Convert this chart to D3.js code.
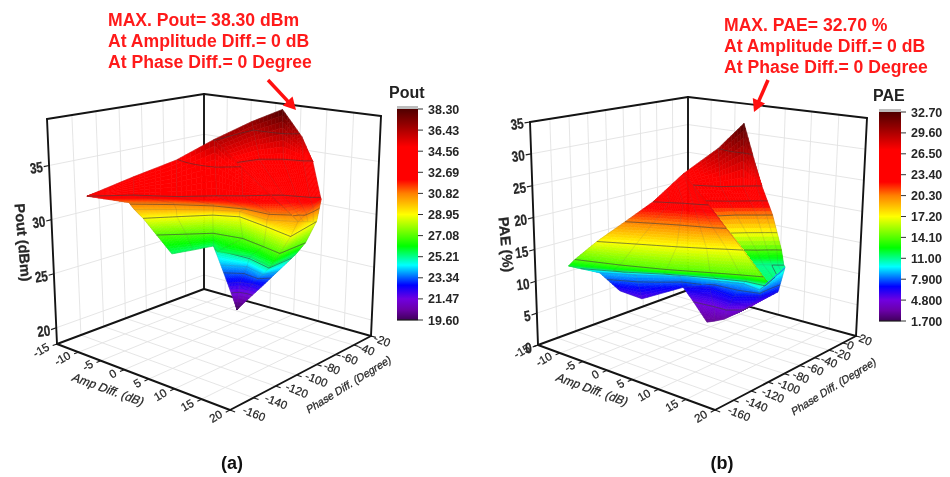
<!DOCTYPE html>
<html>
<head>
<meta charset="utf-8">
<script src="https://cdn.jsdelivr.net/npm/d3@7"></script>
<style>
  html, body { margin: 0; background: #fff; }
  svg { display: block; filter: blur(0.6px); font-family: "Liberation Sans", Arial, sans-serif; }
</style>
</head>
<body>
<svg id="chart" width="950" height="477"></svg>
<script>
// axis values
const ampTicks = [-15, -10, -5, 0, 5, 10, 15, 20];
const phaseTicksA = [-160, -140, -120, -100, -80, -60, -40, -20];
const phaseTicksB = [-160, -140, -120, -100, -80, -60, -40, -20, 0, 20];
const poutTicks = [20, 25, 30, 35];
const paeTicks = [0, 5, 10, 15, 20, 25, 30, 35];
const poutBarLabels = ["38.30", "36.43", "34.56", "32.69", "30.82", "28.95", "27.08", "25.21", "23.34", "21.47", "19.60"];
const paeBarLabels = ["32.70", "29.60", "26.50", "23.40", "20.30", "17.20", "14.10", "11.00", "7.900", "4.800", "1.700"];

// Pout surface, three pieces: back sheet, lower tail, front sheet
const poutBackAmp = [[-2.1,-5.2,-1.3,5.0,10.2],[2.2,3.3,6.0,9.1,10.2],[11.5,12.9,14.8,16.7,17.9],[14.7,14.7,15.4,15.7,15.9],[14.7,14.2,13.6,13.0,12.0]];
const poutBackPhase = [[-70,-18,-6,-18,-34],[-69,-52,-42,-38,-34],[-83,-78,-75,-72,-68],[-72,-69,-68,-63,-56],[-72,-64,-56,-47,-38]];
const poutBackValue = [[36.5,37,38.3,36.2,34.5],[34.5,34.5,34.5,34.5,34.5],[32.7,32.7,32.7,32.7,32.7],[30.3,30.5,31,31.5,32],[30.3,30,29.6,29.3,29]];

const poutTailAmp = [[-4.5,3.7,9.3,8.5],[-2.3,1.5,6.0,6.8],[-0.4,0.8,2.8,4.8],[0,0,0,0]];
const poutTailPhase = [[-59,-62,-70,-40],[-62,-54,-60,-49],[-64,-57,-55,-55],[-56,-56,-56,-56]];
const poutTailValue = [[25.5,25.5,25.5,25.5],[24,24,24,24],[22.5,22.5,22.5,22.5],[19.7,19.7,19.7,19.7]];

const poutFrontAmp = [[-8.2,-7.1,-6.4,-2.1,4.8,11.5,11.5],[-8.2,-3.6,1.8,5.8,8.7,11.5,11.5],[-9.0,-3.6,1.6,6.8,11.1,13.5,13.5],[-9.1,-4.2,0.3,3.9,10.2,14.3,14.3],[-9.9,-6.6,-3.0,0.9,7.8,13.9,11.8],[-9.4,-6.2,-3.3,2.2,7.5,11.6,11.1],[-6.6,-5.5,-4.5,-2.0,3.7,9.3,8.5]];
const poutFrontPhase = [[-156,-121,-86,-70,-77,-83,-83],[-156,-136,-122,-105,-95,-83,-83],[-118,-101,-88,-82,-81,-74,-74],[-113,-96,-82,-74,-79,-70,-70],[-102,-85,-67,-59,-67,-75,-37],[-92,-78,-65,-62,-68,-73,-44],[-90,-75,-59,-67,-62,-70,-40]];
const poutFrontValue = [[32.7,33.7,34.5,36.5,34.5,32.7,32.7],[32.7,32.7,32.7,32.7,32.7,32.7,32.7],[31,31,31,31,31,31,31],[30.2,30.2,30.2,30.2,30.2,30.2,30.2],[28.95,28.95,28.95,28.95,28.95,28.95,28.95],[27.08,27.08,27.08,27.08,27.08,27.08,27.08],[25.5,25.5,25.5,25.5,25.5,25.5,25.5]];

// PAE surface
const paeBackAmp = [[0.6,1.6,1.0,10.9,14.7],[6.9,10.5,12.7,14.1,14.7],[5.7,7.6,9.9,11.0,11.7],[7.0,8.5,9.7,10.8,11.4],[6.9,7.9,8.9,9.7,10.4],[14.9,13.7,12.6,11.8,10.8]];
const paeBackPhase = [[-78,-43,-7,-58,-75],[-105,-96,-84,-77,-75],[-70,-58,-48,-43,-40],[-44,-38,-32,-27,-25],[-29,-24,-20,-17,-14],[-66,-51,-39,-27,-15]];
const paeBackValue = [[26.5,29.6,32.7,28.9,26.5],[26.5,26.5,26.5,26.5,26.5],[20.3,20.3,20.3,20.3,20.3],[14.1,14.1,14.1,14.1,14.1],[11,11,11,11,11],[11.5,11.3,11,10.8,10.8]];

const paeTailAmp = [[-2.1,4.2,7.6,11.3,10.6],[-2.7,0.8,6.2,9.3,10.0],[-0.7,3.1,5.6,7.6,7.4],[3.2,4.2,5.1,6.3,7.4]];
const paeTailPhase = [[-66,-55,-48,-52,-14],[-59,-47,-51,-37,-18],[-58,-56,-56,-47,-37],[-65,-61,-55,-47,-39]];
const paeTailValue = [[9,9,9,9,10.5],[6.8,6.8,6.8,6.8,6.8],[4.8,4.8,4.8,4.8,4.8],[2.8,3,3.2,4,4.8]];

const paeFrontAmp = [[1.0,1.0,1.4,0.6,3.8,8.3,8.3],[1.0,3.2,4.9,6.3,7.2,8.3,8.3],[-2.2,1.5,5.1,7.9,9.7,11.3,11.3],[-5.5,-0.2,5.2,9.0,11.5,13.5,13.5],[-8.8,-1.8,4.8,10.5,14.4,17.4,17.4],[-11.7,-5.1,1.6,8.2,12.9,16.2,16.2],[-13.1,-7.9,-2.1,4.2,7.6,11.3,7.7],[-10.8,-7.1,-2.7,4.2,7.6,11.3,7.7]];
const paeFrontPhase = [[-115,-100,-91,-78,-86,-96,-96],[-115,-109,-104,-101,-99,-96,-96],[-128,-118,-109,-103,-99,-94,-94],[-141,-127,-113,-102,-94,-88,-88],[-148,-136,-122,-107,-97,-90,-90],[-141,-126,-107,-89,-79,-75,-75],[-101,-86,-66,-55,-48,-52,7],[-90,-84,-59,-55,-48,-52,7]];
const paeFrontValue = [[23.4,24.8,26,26.5,25.3,23.4,23.4],[23.4,23.4,23.4,23.4,23.4,23.4,23.4],[20.3,20.3,20.3,20.3,20.3,20.3,20.3],[17.2,17.2,17.2,17.2,17.2,17.2,17.2],[14.1,14.1,14.1,14.1,14.1,14.1,14.1],[12.2,12.2,12.2,12.2,12.2,12.2,12.2],[9,9,9,9,9,9,9],[6,5.2,6.8,9,9,9,9]];

const poutNotes = ["MAX. Pout= 38.30 dBm", "At Amplitude Diff.= 0 dB", "At Phase Diff.= 0 Degree"];
const paeNotes = ["MAX. PAE= 32.70 %", "At Amplitude Diff.= 0 dB", "At Phase Diff.= 0 Degree"];

// rainbow map, position 0..1 from the bottom
const mapPos = [0, 0.05, 0.1, 0.165, 0.26, 0.35, 0.5, 0.6, 0.665, 0.82, 0.93, 1];
const mapColors = ["#40005a", "#6a00a8", "#7000e0", "#0000ff", "#00ffff", "#00ff00", "#ffff00", "#ff8000", "#ff0000", "#ff0000", "#900000", "#500000"];

const svg = d3.select("#chart");
const SUB = 8;

// unit square -> quad, corners order (0,0) (1,0) (1,1) (0,1)
function homography([p0, p1, p2, p3]) {
  const dx1 = p1[0] - p2[0], dx2 = p3[0] - p2[0], sx = p0[0] - p1[0] + p2[0] - p3[0];
  const dy1 = p1[1] - p2[1], dy2 = p3[1] - p2[1], sy = p0[1] - p1[1] + p2[1] - p3[1];
  const den = dx1 * dy2 - dx2 * dy1;
  const g = (sx * dy2 - dx2 * sy) / den, h = (dx1 * sy - sx * dy1) / den;
  const a = p1[0] - p0[0] + g * p1[0], b = p3[0] - p0[0] + h * p3[0];
  const d = p1[1] - p0[1] + g * p1[1], e = p3[1] - p0[1] + h * p3[1];
  return (u, v) => {
    const w = g * u + h * v + 1;
    return [(a * u + b * v + p0[0]) / w, (d * u + e * v + p0[1]) / w];
  };
}

function drawPanel(cfg) {
  const g = svg.append("g");
  const floor = homography(cfg.floor);
  const top = homography(cfg.top);
  const uScale = d3.scaleLinear().domain([-15, 20]).range([0, 1]);
  const vScale = d3.scaleLinear().domain(cfg.phaseDomain).range([0, 1]);
  const tScale = d3.scaleLinear().domain(cfg.zDomain).range([0, 1]);

  const atUV = (u, v, t) => {
    const f = floor(u, v), c = top(u, v);
    return [f[0] + (c[0] - f[0]) * t, f[1] + (c[1] - f[1]) * t];
  };
  const project = (amp, phase, val) => atUV(uScale(amp), vScale(phase), tScale(val));
  const lineGen = d3.line();

  const color = d3.scaleLinear()
    .domain(mapPos.map(d => cfg.barDomain[0] + d * (cfg.barDomain[1] - cfg.barDomain[0])))
    .range(mapColors)
    .clamp(true);

  // grid on walls and floor
  const grid = g.append("g").attr("fill", "none").attr("stroke", "#e2e2e2").attr("stroke-width", 0.9);
  const addGrid = (a, b) => grid.append("path").attr("d", lineGen([a, b]));
  ampTicks.slice(1, -1).forEach(d => {
    const u = uScale(d);
    addGrid(atUV(u, 0, 0), atUV(u, 1, 0));
    addGrid(atUV(u, 1, 0), atUV(u, 1, 1));
  });
  cfg.phaseTicks.slice(1, -1).forEach(d => {
    const v = vScale(d);
    addGrid(atUV(0, v, 0), atUV(1, v, 0));
    addGrid(atUV(0, v, 0), atUV(0, v, 1));
  });
  cfg.zTicks.forEach(d => {
    const t = tScale(d);
    addGrid(atUV(0, 0, t), atUV(0, 1, t));
    addGrid(atUV(0, 1, t), atUV(1, 1, t));
  });

  // box edges
  const frame = g.append("g").attr("fill", "none").attr("stroke", "#141414").attr("stroke-width", 1.9).attr("stroke-linecap", "round");
  const edges = [
    [[0, 0, 0], [1, 0, 0]], [[1, 0, 0], [1, 1, 0]], [[0, 0, 0], [0, 1, 0]], [[0, 1, 0], [1, 1, 0]],
    [[0, 0, 0], [0, 0, 1]], [[0, 1, 0], [0, 1, 1]], [[1, 1, 0], [1, 1, 1]],
    [[0, 0, 1], [0, 1, 1]], [[0, 1, 1], [1, 1, 1]]
  ];
  edges.forEach(e => frame.append("path").attr("d", lineGen(e.map(p => atUV(...p)))));

  // ticks and labels
  const ticks = g.append("g").attr("stroke", "#1c1c1c").attr("stroke-width", 1.1);
  const labels = g.append("g").attr("fill", "#262626").attr("stroke", "#262626").attr("stroke-width", 0.25);
  ampTicks.forEach(d => {
    const u = uScale(d);
    ticks.append("path").attr("d", lineGen([atUV(u, 0, 0), atUV(u, -0.025, 0)]));
    const p = atUV(u, -0.045, 0);
    labels.append("text").text(d).attr("text-anchor", "end").attr("font-size", 11.5)
      .attr("transform", `translate(${p[0] + 1},${p[1] + 2.5}) rotate(-30)`);
  });
  cfg.phaseTicks.forEach(d => {
    const v = vScale(d);
    const p = atUV(1, v, 0);
    ticks.append("path").attr("d", lineGen([p, atUV(1.025, v, 0)]));
    const nv = vScale(d);
    labels.append("text").text(d).attr("text-anchor", "start").attr("font-size", 11.5)
      .attr("transform", `translate(${p[0] + 12 - 10 * nv},${p[1] + 3 + 2 * nv}) rotate(22)`);
  });
  cfg.zTicks.forEach(d => {
    const t = tScale(d);
    ticks.append("path").attr("d", lineGen([atUV(0, 0, t), atUV(0, -0.03, t)]));
    const p = atUV(0, -0.04, t);
    labels.append("text").text(d).attr("text-anchor", "end").attr("font-size", 13.5).attr("font-weight", "bold")
      .attr("transform", `translate(${p[0] + 1.5},${p[1] + 5}) rotate(-8) scale(0.86,1.1)`);
  });
  cfg.axisTitles.forEach(a => {
    labels.append("text").text(a.text).attr("text-anchor", "middle")
      .attr("font-size", a.size).attr("font-weight", a.weight || "normal")
      .attr("transform", `translate(${a.x},${a.y}) rotate(${a.rot}) skewX(${a.skew || 0})`);
  });

  // surface, painted back to front
  cfg.sheets.forEach(sheet => {
    const layer = g.append("g");
    const cells = layer.append("g");
    const mesh = layer.append("g").attr("fill", "none").attr("stroke", "#5a5a5a").attr("stroke-opacity", 0.22).attr("stroke-width", 0.7);
    const iso = layer.append("g").attr("fill", "none").attr("stroke", "#3a3a3a").attr("stroke-opacity", 0.6).attr("stroke-width", 0.9);
    const nr = sheet.amp.length, nc = sheet.amp[0].length;
    const at = (r, c, s, t) => {
      const mix = m => (m[r][c] * (1 - s) + m[r][c + 1] * s) * (1 - t) + (m[r + 1][c] * (1 - s) + m[r + 1][c + 1] * s) * t;
      return { a: mix(sheet.amp), p: mix(sheet.phase), z: mix(sheet.value) };
    };
    const xy = q => project(q.a, q.p, q.z);
    for (let r = 0; r < nr - 1; r++) {
      for (let c = 0; c < nc - 1; c++) {
        for (let i = 0; i < SUB; i++) {
          for (let j = 0; j < SUB; j++) {
            const s0 = j / SUB, s1 = (j + 1) / SUB, t0 = i / SUB, t1 = (i + 1) / SUB;
            const q = [at(r, c, s0, t0), at(r, c, s1, t0), at(r, c, s1, t1), at(r, c, s0, t1)];
            const pts = q.map(xy);
            const col = color(d3.mean(q, d => d.z));
            cells.append("path").attr("d", lineGen(pts) + "Z").attr("fill", col).attr("stroke", col).attr("stroke-width", 0.6);
            cfg.contours.forEach(level => {
              const cross = [];
              for (let k = 0; k < 4; k++) {
                const a = q[k], b = q[(k + 1) % 4];
                if ((a.z < level) !== (b.z < level)) {
                  const f = (level - a.z) / (b.z - a.z), pa = pts[k], pb = pts[(k + 1) % 4];
                  cross.push([pa[0] + (pb[0] - pa[0]) * f, pa[1] + (pb[1] - pa[1]) * f]);
                }
              }
              if (cross.length === 2) iso.append("path").attr("d", lineGen(cross));
            });
          }
        }
      }
    }
    // light mesh
    for (let r = 0; r < nr; r++) mesh.append("path").attr("d", lineGen(d3.range(nc).map(c => project(sheet.amp[r][c], sheet.phase[r][c], sheet.value[r][c]))));
    for (let c = 0; c < nc; c++) mesh.append("path").attr("d", lineGen(d3.range(nr).map(r => project(sheet.amp[r][c], sheet.phase[r][c], sheet.value[r][c]))));
  });

  // colour bar
  const barY = d3.scaleLinear().domain(cfg.barDomain).range([cfg.bar.y1, cfg.bar.y0]);
  const gradId = "grad" + cfg.id;
  const grad = svg.append("defs").append("linearGradient").attr("id", gradId).attr("x1", 0).attr("x2", 0).attr("y1", 1).attr("y2", 0);
  mapPos.forEach((d, i) => grad.append("stop").attr("offset", d).attr("stop-color", mapColors[i]));
  const bar = g.append("g");
  bar.append("rect").attr("x", cfg.bar.x).attr("y", cfg.bar.y0 - 3).attr("width", cfg.bar.w).attr("height", 3).attr("fill", "#bdbdbd");
  bar.append("rect").attr("x", cfg.bar.x).attr("y", cfg.bar.y0).attr("width", cfg.bar.w).attr("height", cfg.bar.y1 - cfg.bar.y0).attr("fill", `url(#${gradId})`);
  bar.append("path").attr("d", lineGen([[cfg.bar.x, cfg.bar.y1], [cfg.bar.x + cfg.bar.w, cfg.bar.y1]])).attr("stroke", "#1c1c1c").attr("stroke-width", 1.2);
  const step = (cfg.barDomain[1] - cfg.barDomain[0]) / (cfg.barLabels.length - 1);
  cfg.barLabels.forEach((d, i) => {
    const y = barY(cfg.barDomain[1] - i * step);
    bar.append("path").attr("d", lineGen([[cfg.bar.x + cfg.bar.w, y], [cfg.bar.x + cfg.bar.w + 5, y]])).attr("stroke", "#333").attr("stroke-width", 1);
    bar.append("text").text(d).attr("x", cfg.bar.x + cfg.bar.w + 10).attr("y", y + 4.5).attr("font-size", 12.5).attr("fill", "#262626").attr("font-weight", "bold");
  });
  bar.append("text").text(cfg.barTitle).attr("x", cfg.titleX).attr("y", cfg.bar.y0 - 11).attr("font-size", 16).attr("font-weight", "bold").attr("fill", "#222");

  // red notes and arrow
  const notes = g.append("g").attr("fill", "#ff1a1a").attr("font-weight", "bold").attr("font-size", 17.6);
  cfg.notes.forEach((d, i) => notes.append("text").text(d).attr("x", cfg.noteX).attr("y", cfg.noteY + i * 21.2));
  const [ax0, ay0, ax1, ay1] = cfg.arrow;
  const ang = Math.atan2(ay1 - ay0, ax1 - ax0);
  g.append("path").attr("d", lineGen([[ax0, ay0], [ax1 - 8 * Math.cos(ang), ay1 - 8 * Math.sin(ang)]])).attr("stroke", "#ff1010").attr("stroke-width", 3.5);
  const head = [[ax1, ay1], [ax1 - 14 * Math.cos(ang - 0.5), ay1 - 14 * Math.sin(ang - 0.5)], [ax1 - 14 * Math.cos(ang + 0.5), ay1 - 14 * Math.sin(ang + 0.5)]];
  g.append("path").attr("d", lineGen(head) + "Z").attr("fill", "#ff1010");

  g.append("text").text(cfg.tag).attr("x", cfg.tagX).attr("y", 469).attr("text-anchor", "middle").attr("font-size", 18).attr("font-weight", "bold").attr("fill", "#111");
}

drawPanel({
  id: "a",
  floor: [[57, 344], [230, 410], [371, 336], [204, 289]],
  top: [[47, 119], [232, 147], [381, 116], [204, 94]],
  phaseDomain: [-160, -20],
  zDomain: [18.5, 39.3],
  phaseTicks: phaseTicksA,
  zTicks: poutTicks,
  barDomain: [19.6, 38.3],
  barLabels: poutBarLabels,
  barTitle: "Pout", titleX: 389,
  bar: { x: 397, w: 21, y0: 109, y1: 320 },
  contours: [36.43, 34.56, 32.69, 30.82, 28.95, 27.08, 25.21, 23.34, 21.47],
  sheets: [
    { amp: poutBackAmp, phase: poutBackPhase, value: poutBackValue },
    { amp: poutTailAmp, phase: poutTailPhase, value: poutTailValue },
    { amp: poutFrontAmp, phase: poutFrontPhase, value: poutFrontValue }
  ],
  axisTitles: [
    { text: "Pout (dBm)", x: 18, y: 243, rot: 85, size: 14.5, weight: "bold" },
    { text: "Amp Diff. (dB)", x: 106, y: 393, rot: 20, size: 12, skew: -12 },
    { text: "Phase Diff. (Degree)", x: 350, y: 388, rot: -32, size: 10.8, skew: -12 }
  ],
  notes: poutNotes, noteX: 108, noteY: 26,
  arrow: [268, 80, 296, 110],
  tag: "(a)", tagX: 232
});

drawPanel({
  id: "b",
  floor: [[538, 345], [715, 410], [856, 336], [688, 290]],
  top: [[530, 122], [717, 150], [867, 118], [688, 97]],
  phaseDomain: [-160, 20],
  zDomain: [0, 35],
  phaseTicks: phaseTicksB,
  zTicks: paeTicks,
  barDomain: [1.7, 32.7],
  barLabels: paeBarLabels,
  barTitle: "PAE", titleX: 873,
  bar: { x: 879, w: 22, y0: 112, y1: 321 },
  contours: [29.6, 26.5, 23.4, 20.3, 17.2, 14.1, 11, 7.9, 4.8],
  sheets: [
    { amp: paeBackAmp, phase: paeBackPhase, value: paeBackValue },
    { amp: paeTailAmp, phase: paeTailPhase, value: paeTailValue },
    { amp: paeFrontAmp, phase: paeFrontPhase, value: paeFrontValue }
  ],
  axisTitles: [
    { text: "PAE (%)", x: 501, y: 245, rot: 85, size: 14.5, weight: "bold" },
    { text: "Amp Diff. (dB)", x: 590, y: 393, rot: 20, size: 12, skew: -12 },
    { text: "Phase Diff. (Degree)", x: 835, y: 390, rot: -32, size: 10.8, skew: -12 }
  ],
  notes: paeNotes, noteX: 724, noteY: 31,
  arrow: [768, 80, 754, 112],
  tag: "(b)", tagX: 722
});
</script>
</body>
</html>
